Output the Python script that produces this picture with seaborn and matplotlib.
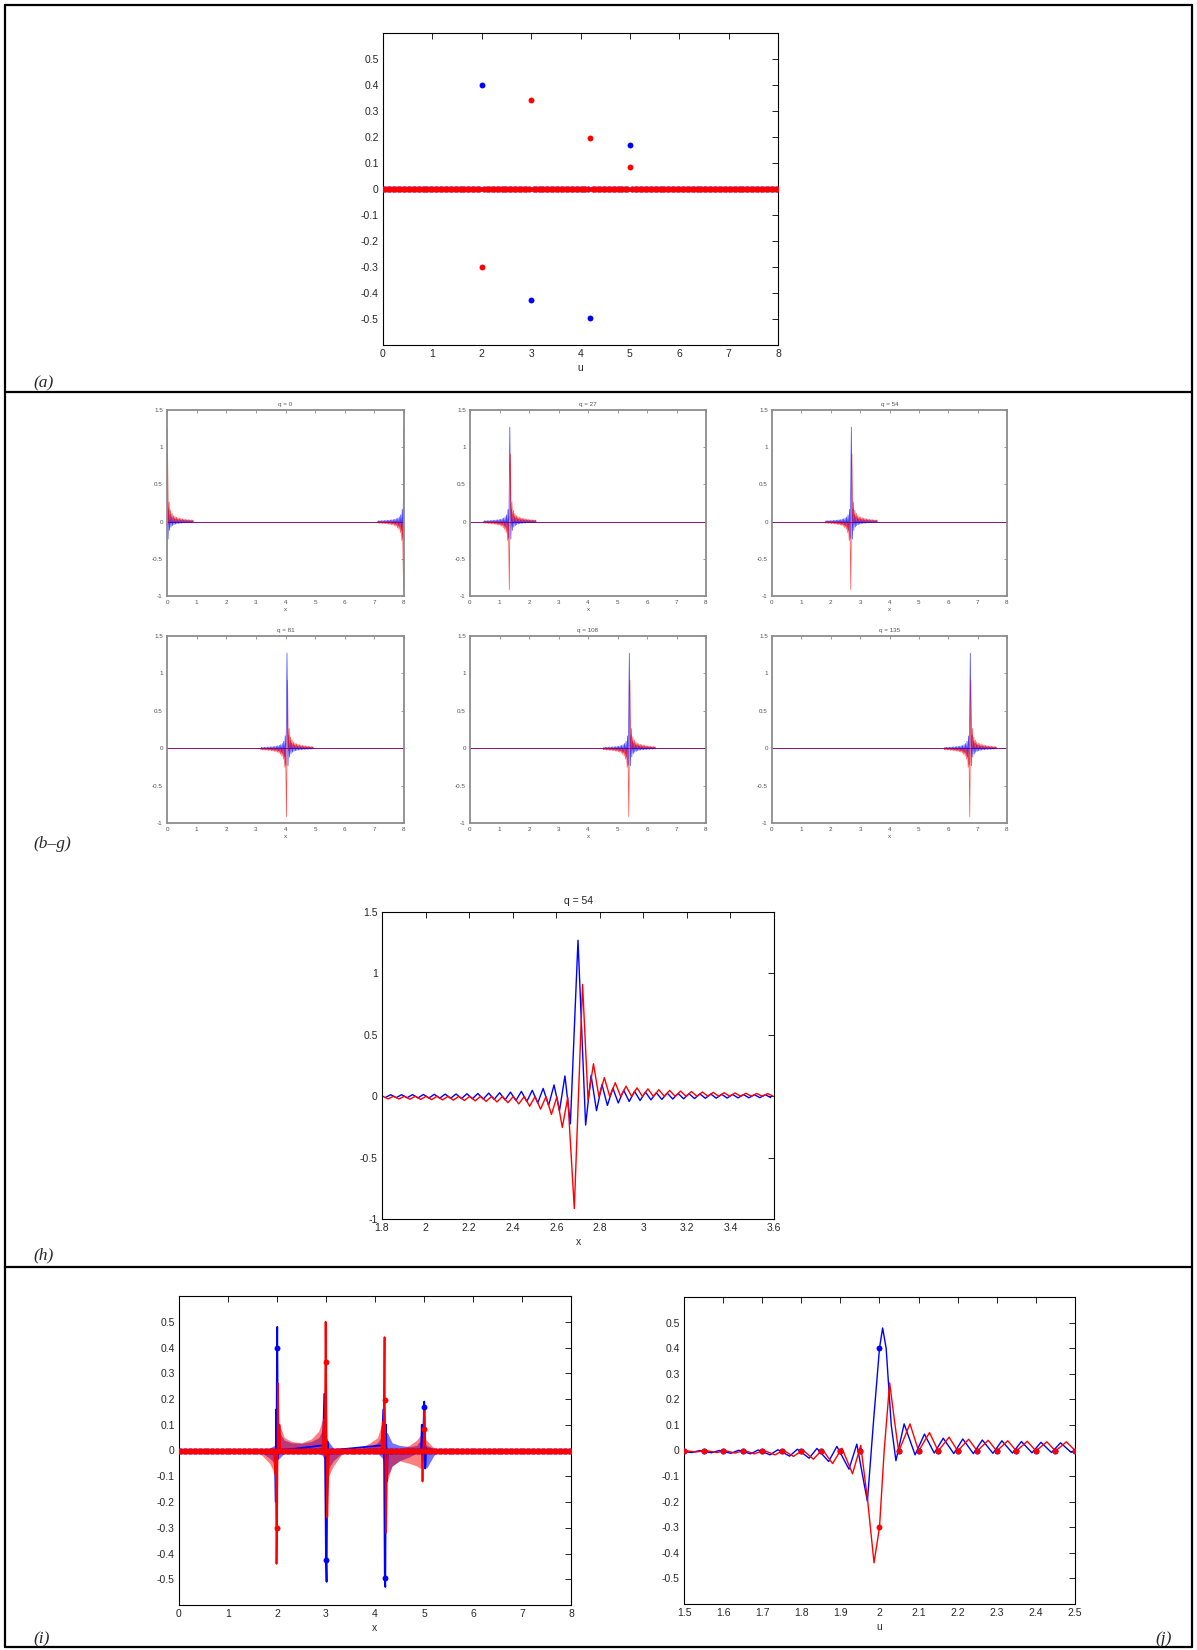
import numpy as np
import seaborn as sns
import matplotlib.pyplot as plt
from matplotlib.lines import Line2D

sns.set_style('white')
plt.rcParams['font.family'] = ['Liberation Sans', 'DejaVu Sans']
plt.rcParams['axes.unicode_minus'] = False

W, H = 1197, 1650

# sample grid and the four non-zero coefficients (panels a, i, j)
u_grid = np.round(np.linspace(0, 8, 161), 2)
coef_u = [2.0, 3.0, 4.2, 5.0]
coef_re = [0.40, -0.425, -0.497, 0.17]
coef_im = [-0.30, 0.342, 0.197, 0.085]

# q values of panels b-g, centre of the kernel is q * q_step
q_values = [0, 27, 54, 81, 108, 135]
q_step = 0.05

# kernel for q = 54 (panel h), extrema
h_blue_x = np.concatenate([np.linspace(1.815, 2.665, 35), [2.70], np.linspace(2.735, 3.585, 35)])
h_blue_y = [-0.011, 0.012, -0.012, 0.012, -0.013, 0.013, -0.014, 0.014, -0.015, 0.015,
            -0.016, 0.017, -0.017, 0.018, -0.019, 0.020, -0.021, 0.022, -0.023, 0.025,
            -0.026, 0.028, -0.030, 0.033, -0.035, 0.039, -0.043, 0.048, -0.055, 0.063,
            -0.075, 0.092, -0.118, 0.165, -0.225,
            1.27,
            -0.235, 0.17, -0.118, 0.095, -0.075, 0.065, -0.055, 0.048, -0.043, 0.039,
            -0.035, 0.033, -0.030, 0.028, -0.026, 0.025, -0.023, 0.022, -0.021, 0.020,
            -0.019, 0.018, -0.017, 0.017, -0.016, 0.015, -0.015, 0.014, -0.014, 0.013,
            -0.013, 0.012, -0.012, 0.012, -0.011]
h_red_x = np.concatenate([np.linspace(1.803, 2.653, 35), [2.683, 2.721], np.linspace(2.746, 3.596, 35)])
h_red_y = [0.0, -0.022, 0.0, -0.023, 0.0, -0.025, 0.0, -0.026, 0.0, -0.028,
           0.0, -0.030, -0.001, -0.032, -0.001, -0.035, -0.001, -0.038, -0.001, -0.042,
           -0.002, -0.047, -0.002, -0.053, -0.002, -0.063, -0.003, -0.082, -0.003, -0.105,
           -0.004, -0.148, -0.005, -0.255, -0.010,
           -0.915, 0.91,
           -0.030, 0.264, -0.004, 0.151, -0.003, 0.110, -0.003, 0.082, -0.002, 0.068,
           -0.002, 0.060, -0.002, 0.053, -0.001, 0.047, -0.001, 0.042, -0.001, 0.038,
           -0.001, 0.034, 0.0, 0.031, 0.0, 0.028, 0.0, 0.026, 0.0, 0.024,
           0.0, 0.022, 0.0, 0.021, 0.0]
h_centre = 2.70

# panel i: spikes and oscillation bands
i_blue_x = [0, 1.955, 1.975, 1.985, 1.99, 2.0, 2.005, 2.02, 2.035, 2.05,
            2.94, 2.965, 2.98, 3.0, 3.012, 3.03, 3.05, 3.06,
            4.14, 4.17, 4.185, 4.2, 4.21, 4.225, 4.24, 4.26,
            4.94, 4.955, 4.975, 5.0, 5.005, 5.025, 5.045, 5.06, 8]
i_blue_y = [0, 0.0, -0.2, 0.16, 0.0, 0.4, 0.48, -0.03, 0.07, 0.0,
            0.02, 0.22, 0.0, -0.425, -0.51, 0.035, -0.02, 0.0,
            0.02, 0.16, 0.0, -0.497, -0.53, 0.1, -0.12, 0.0,
            0.0, 0.1, -0.03, 0.17, 0.19, -0.07, 0.01, 0.0, 0]
i_red_x = [0, 1.94, 1.965, 1.975, 1.99, 2.0, 2.02, 2.035, 2.05, 2.07,
           2.93, 2.955, 2.975, 2.992, 3.0, 3.025, 3.045, 3.06,
           4.13, 4.16, 4.175, 4.195, 4.2, 4.225, 4.245, 4.26,
           4.94, 4.955, 4.97, 4.985, 5.0, 5.008, 5.03, 8]
i_red_y = [0, 0.0, -0.09, 0.0, -0.44, -0.3, 0.26, 0.0, 0.1, 0.0,
           0.0, 0.12, -0.02, 0.5, 0.342, -0.26, -0.1, 0.0,
           0.0, 0.11, 0.0, 0.44, 0.197, -0.32, -0.05, 0.0,
           0.0, 0.0, -0.12, 0.0, 0.085, 0.17, 0.0, 0]
band_x = [1.55, 1.7, 1.85, 1.95, 2.05, 2.15, 2.3, 2.5, 2.7, 2.85, 2.93, 3.05, 3.15, 3.3, 3.4,
          3.6, 3.7, 3.9, 4.05, 4.15, 4.25, 4.35, 4.5, 4.7, 4.85, 4.93, 5.05, 5.2, 5.3]
band_blue_hi = [0, 0.003, 0.01, 0.02, 0.07, 0.04, 0.03, 0.028, 0.035, 0.05, 0.08, 0.035, 0.01, 0.003, 0,
                0, 0.005, 0.015, 0.03, 0.06, 0.07, 0.03, 0.02, 0.015, 0.02, 0.04, 0.02, 0.008, 0]
band_blue_lo = [0, -0.01, -0.03, -0.05, -0.03, -0.01, -0.005, -0.003, -0.005, -0.01, -0.02, -0.07, -0.04, -0.015, 0,
                0, -0.003, -0.005, -0.01, -0.03, -0.1, -0.06, -0.04, -0.025, -0.01, -0.01, -0.07, -0.02, 0]
band_red_hi = [0, 0.0, 0.005, 0.01, 0.1, 0.05, 0.035, 0.03, 0.045, 0.075, 0.12, 0.01, 0.005, 0, 0,
               0, 0.01, 0.03, 0.05, 0.11, 0.01, 0.005, 0.005, 0.02, 0.04, 0.06, 0.04, 0.01, 0]
band_red_lo = [0, -0.02, -0.05, -0.09, 0.0, 0.0, 0.0, 0.0, 0.0, 0.0, 0.0, -0.1, -0.06, -0.02, 0,
               0, 0, 0, 0, 0, -0.12, -0.06, -0.04, -0.05, -0.06, -0.07, -0.01, -0.005, 0]

# panel j: curves around u = 2
j_blue_x = [1.5, 1.52, 1.54, 1.57, 1.59, 1.62, 1.64, 1.67, 1.69, 1.72, 1.74, 1.77, 1.79, 1.82, 1.84,
            1.87, 1.891, 1.922, 1.942, 1.969, 1.985, 2.0, 2.008, 2.017, 2.03, 2.042, 2.063, 2.091,
            2.115, 2.14, 2.163, 2.19, 2.213, 2.24, 2.263, 2.29, 2.313, 2.34, 2.363, 2.39, 2.413,
            2.44, 2.463, 2.49, 2.5]
j_blue_y = [-0.004, -0.008, 0.0, -0.009, 0.0, -0.011, 0.001, -0.013, 0.002, -0.017, 0.003, -0.022,
            0.005, -0.03, 0.008, -0.043, 0.016, -0.073, 0.025, -0.199, 0.12, 0.40, 0.479, 0.40,
            0.10, -0.04, 0.104, -0.017, 0.064, -0.01, 0.048, -0.012, 0.045, -0.012, 0.041, -0.011,
            0.038, -0.01, 0.035, -0.009, 0.032, -0.008, 0.03, -0.007, -0.004]
j_red_x = [1.5, 1.53, 1.554, 1.585, 1.604, 1.63, 1.654, 1.68, 1.704, 1.733, 1.754, 1.78, 1.804,
           1.831, 1.854, 1.88, 1.904, 1.931, 1.952, 1.97, 1.986, 2.0, 2.012, 2.026, 2.038, 2.049,
           2.078, 2.1, 2.128, 2.15, 2.178, 2.2, 2.228, 2.25, 2.278, 2.3, 2.328, 2.35, 2.378, 2.4,
           2.428, 2.45, 2.478, 2.5]
j_red_y = [0.0, -0.006, 0.0, -0.008, 0.0, -0.01, 0.0, -0.013, 0.0, -0.017, 0.001, -0.023, 0.002,
           -0.034, 0.004, -0.051, 0.009, -0.091, 0.02, -0.2, -0.439, -0.30, 0.0, 0.264, 0.12,
           -0.004, 0.104, -0.002, 0.07, -0.002, 0.052, -0.002, 0.044, -0.002, 0.04, -0.002, 0.038,
           -0.002, 0.036, -0.002, 0.034, -0.002, 0.034, 0.0]

BLUE, RED = '#0000ff', '#ff0000'

u_re = np.zeros_like(u_grid)
u_im = np.zeros_like(u_grid)
for u, re, im in zip(coef_u, coef_re, coef_im):
    k = int(np.argmin(np.abs(u_grid - u)))
    u_re[k] = re
    u_im[k] = im


def px_axes(fig, left, top, right, bottom):
    return fig.add_axes([left / W, 1 - bottom / H, (right - left) / W, (bottom - top) / H])


def matlab_style(ax, xticks, yticks, fs=7.5, col='black', spine_lw=0.8, tick_len=4):
    for s in ax.spines.values():
        s.set_visible(True)
        s.set_color(col)
        s.set_linewidth(spine_lw)
    ax.set_xticks(xticks)
    ax.set_xticklabels([f'{t:g}' for t in xticks])
    ax.set_yticks(yticks)
    ax.set_yticklabels([f'{t:g}' for t in yticks])
    ax.tick_params(direction='in', top=True, right=True, length=tick_len, width=0.6,
                   labelsize=fs, color=col, pad=3)
    ax.grid(False)


def dots(ax, x, y, color, s=18):
    sns.scatterplot(x=x, y=y, ax=ax, color=color, s=s, linewidth=0, legend=False, zorder=3)


def line(ax, x, y, color, lw=1.0, alpha=1.0):
    sns.lineplot(x=x, y=y, ax=ax, color=color, lw=lw, alpha=alpha,
                 estimator=None, sort=False, legend=False)


fig = plt.figure(figsize=(W / 100, H / 100), dpi=100)

y_ticks_small = [-0.5, -0.4, -0.3, -0.2, -0.1, 0, 0.1, 0.2, 0.3, 0.4, 0.5]

# (a)
ax = px_axes(fig, 383, 33, 778, 345)
dots(ax, u_grid, u_re, BLUE)
dots(ax, u_grid, u_im, RED)
ax.set_xlim(0, 8)
ax.set_ylim(-0.6, 0.6)
matlab_style(ax, list(range(9)), y_ticks_small)
ax.set_xlabel('u', fontsize=7.5, labelpad=3)

# (b-g)
cols = [(167, 404), (470, 706), (772, 1007)]
rows = [(410, 596), (636, 823)]
for n, q in enumerate(q_values):
    l, r = cols[n % 3]
    t, b = rows[n // 3]
    ax = px_axes(fig, l, t, r, b)
    centre = q * q_step
    line(ax, [0, 8], [0, 0], BLUE, lw=0.6)
    line(ax, [0, 8], [0, 0], RED, lw=0.6, alpha=0.6)
    for shift in (centre - 8, centre, centre + 8):
        line(ax, h_blue_x - h_centre + shift, h_blue_y, BLUE, lw=0.5, alpha=0.75)
        line(ax, h_red_x - h_centre + shift, h_red_y, RED, lw=0.5, alpha=0.7)
    ax.set_xlim(0, 8)
    ax.set_ylim(-1, 1.5)
    matlab_style(ax, list(range(9)), [-1, -0.5, 0, 0.5, 1, 1.5], fs=4.5,
                 col='#8c8c8c', spine_lw=1.3, tick_len=2)
    ax.tick_params(labelcolor='#505050')
    ax.set_title(f'q = {q}', fontsize=4.5, color='#505050', pad=3)
    ax.set_xlabel('x', fontsize=4.5, color='#505050', labelpad=1)

# (h)
ax = px_axes(fig, 382, 912, 774, 1219)
line(ax, h_blue_x, h_blue_y, BLUE, lw=1.0)
line(ax, h_red_x, h_red_y, RED, lw=1.0)
ax.set_xlim(1.8, 3.6)
ax.set_ylim(-1, 1.5)
matlab_style(ax, [1.8, 2, 2.2, 2.4, 2.6, 2.8, 3, 3.2, 3.4, 3.6], [-1, -0.5, 0, 0.5, 1, 1.5])
ax.set_title('q = 54', fontsize=7.5, pad=6)
ax.set_xlabel('x', fontsize=7.5, labelpad=3)

# (i)
ax = px_axes(fig, 179, 1296, 571, 1605)
ax.fill_between(band_x, band_blue_lo, band_blue_hi, color=BLUE, alpha=0.55, lw=0)
line(ax, i_blue_x, i_blue_y, BLUE, lw=1.3)
dots(ax, u_grid, u_re, BLUE)
ax.fill_between(band_x, band_red_lo, band_red_hi, color=RED, alpha=0.5, lw=0)
line(ax, i_red_x, i_red_y, RED, lw=1.3)
dots(ax, u_grid, u_im, RED)
ax.set_xlim(0, 8)
ax.set_ylim(-0.6, 0.6)
matlab_style(ax, list(range(9)), y_ticks_small)
ax.set_xlabel('x', fontsize=7.5, labelpad=3)

# (j)
sel = (u_grid >= 1.5) & (u_grid <= 2.5)
ax = px_axes(fig, 684, 1297, 1075, 1604)
line(ax, j_blue_x, j_blue_y, BLUE, lw=1.0)
dots(ax, u_grid[sel], u_re[sel], BLUE)
line(ax, j_red_x, j_red_y, RED, lw=1.0)
dots(ax, u_grid[sel], u_im[sel], RED)
ax.set_xlim(1.5, 2.5)
ax.set_ylim(-0.6, 0.6)
matlab_style(ax, [1.5, 1.6, 1.7, 1.8, 1.9, 2, 2.1, 2.2, 2.3, 2.4, 2.5], y_ticks_small)
ax.set_xlabel('u', fontsize=7.5, labelpad=3)

# frame and panel dividers
def fig_line(x0, y0, x1, y1):
    fig.add_artist(Line2D([x0 / W, x1 / W], [1 - y0 / H, 1 - y1 / H], color='black', lw=1.6))

fig_line(5, 5, 1192, 5)
fig_line(5, 1647, 1192, 1647)
fig_line(5, 5, 5, 1647)
fig_line(1192, 5, 1192, 1647)
fig_line(5, 392, 1192, 392)
fig_line(5, 1267, 1192, 1267)

for label, x, y in [('(a)', 33, 387), ('(b–g)', 33, 848), ('(h)', 33, 1259),
                    ('(i)', 33, 1643), ('(j)', 1155, 1643)]:
    fig.text(x / W, 1 - y / H, label, fontsize=12.5, style='italic',
             family=['Liberation Serif', 'DejaVu Serif'], va='baseline', ha='left')

fig.savefig('out.png', dpi=100, facecolor='white')
